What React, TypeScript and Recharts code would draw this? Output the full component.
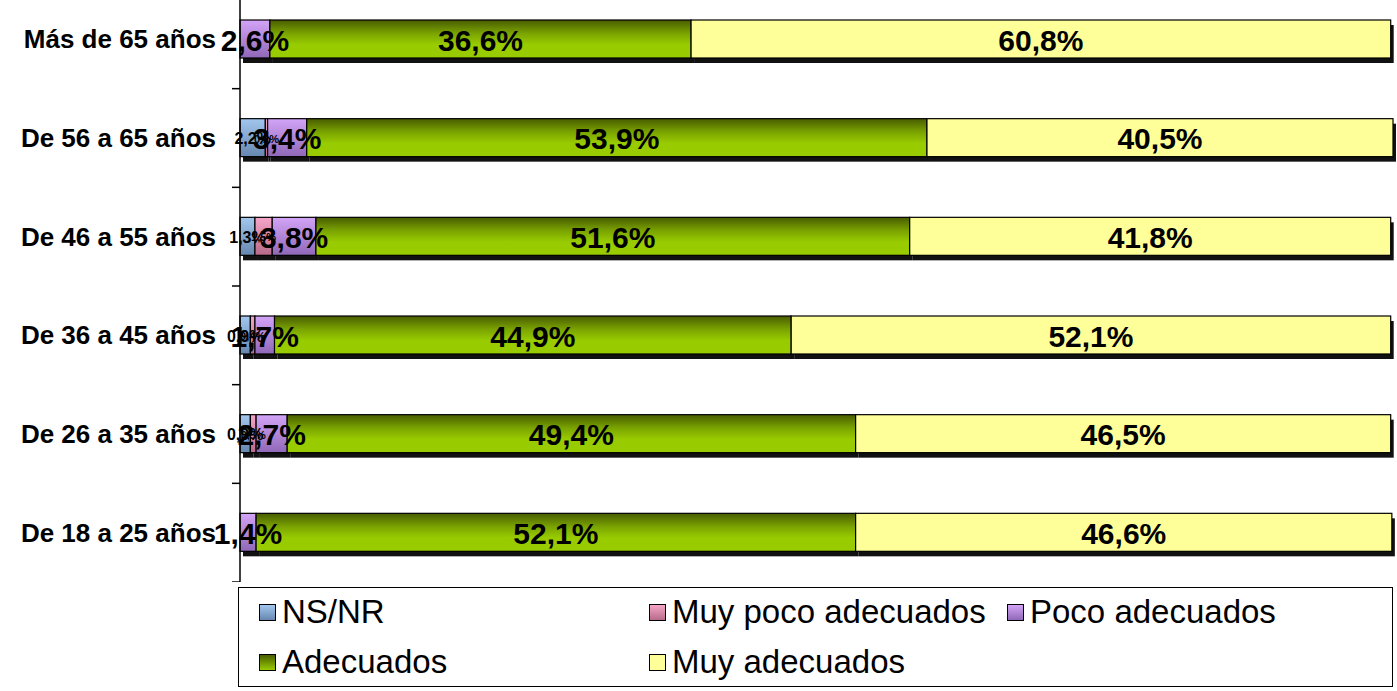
import { Bar, BarChart, LabelList, XAxis, YAxis } from "recharts"

const AGE_GROUPS = [
  "Más de 65 años",
  "De 56 a 65 años",
  "De 46 a 55 años",
  "De 36 a 45 años",
  "De 26 a 35 años",
  "De 18 a 25 años",
]
const NS_NR = [0, 2.2, 1.3, 0.9, 0.9, 0]
const MUY_POCO = [0, 0.2, 1.5, 0.4, 0.5, 0]
const POCO = [2.6, 3.4, 3.8, 1.7, 2.7, 1.4]
const ADECUADOS = [36.6, 53.9, 51.6, 44.9, 49.4, 52.1]
const MUY_ADECUADOS = [60.8, 40.5, 41.8, 52.1, 46.5, 46.6]

const SERIES = [
  { key: "nsnr", name: "NS/NR", values: NS_NR, grad: "gBlue", labelSize: 16 },
  { key: "muypoco", name: "Muy poco adecuados", values: MUY_POCO, grad: "gPink", labelSize: 11 },
  { key: "poco", name: "Poco adecuados", values: POCO, grad: "gPurple", labelSize: 30 },
  { key: "adecuados", name: "Adecuados", values: ADECUADOS, grad: "gGreen", labelSize: 30 },
  { key: "muyadecuados", name: "Muy adecuados", values: MUY_ADECUADOS, grad: "gYellow", labelSize: 30 },
]

const chartData = AGE_GROUPS.map((group, i) => {
  const row: Record<string, string | number> = { group }
  SERIES.forEach((s) => (row[s.key] = s.values[i]))
  return row
})

const W = 1397
const H = 592
const TOP = -10
const PLOT_LEFT = 240
const HALF_BAND = H / AGE_GROUPS.length / 2
const FONT = "Arial, 'Liberation Sans', sans-serif"

const GRADS: Record<string, { stop: number; color: string }[]> = {
  gBlue: [
    { stop: 0, color: "#a2c6ee" },
    { stop: 1, color: "#6687b0" },
  ],
  gPink: [
    { stop: 0, color: "#f5a6c8" },
    { stop: 1, color: "#b86a8a" },
  ],
  gPurple: [
    { stop: 0, color: "#d3a4f7" },
    { stop: 1, color: "#9068b8" },
  ],
  gGreen: [
    { stop: 0, color: "#485c00" },
    { stop: 0.35, color: "#7aa300" },
    { stop: 0.65, color: "#99cc00" },
    { stop: 1, color: "#99cc00" },
  ],
  gYellow: [
    { stop: 0, color: "#ffff99" },
    { stop: 1, color: "#ffff99" },
  ],
}

const fmt = (v: number) => v.toFixed(1).replace(".", ",") + "%"

function ShadowBar(props: any) {
  const { x, y, width, height, fill } = props
  if (!width || width <= 0) return null
  return (
    <g>
      <rect x={x + 3} y={y + 5} width={width} height={height} fill="#111" />
      <rect x={x} y={y} width={width} height={height} fill={fill} stroke="#000" strokeWidth={1.2} />
    </g>
  )
}

function GroupTick(props: any) {
  const { y, payload, index } = props
  return (
    <g>
      <text
        x={PLOT_LEFT - 24}
        y={y}
        textAnchor="end"
        dominantBaseline="central"
        fontFamily={FONT}
        fontWeight="bold"
        fontSize={26}
        fill="#000"
      >
        {payload.value}
      </text>
      <line x1={PLOT_LEFT - 8} x2={PLOT_LEFT} y1={y + HALF_BAND} y2={y + HALF_BAND} stroke="#000" strokeWidth={1.5} />
      {index === 0 && (
        <line x1={PLOT_LEFT - 8} x2={PLOT_LEFT} y1={y - HALF_BAND} y2={y - HALF_BAND} stroke="#000" strokeWidth={1.5} />
      )}
    </g>
  )
}

function makeLabel(size: number) {
  return (props: any) => {
    const { x, y, width, height, value } = props
    if (!value) return null
    return (
      <text
        x={x + width / 2}
        y={y + height / 2 + 1}
        textAnchor="middle"
        dominantBaseline="central"
        fontFamily={FONT}
        fontWeight="bold"
        fontSize={size}
        fill="#000"
      >
        {fmt(value)}
      </text>
    )
  }
}

function LegendBox() {
  const cols = [258, 648, 1006]
  const rows = [611, 661]
  return (
    <div
      style={{
        position: "absolute",
        left: 238,
        top: 587,
        width: 1155,
        height: 100,
        border: "1.5px solid #000",
        boxSizing: "border-box",
      }}
    >
      {SERIES.map((s, i) => {
        const left = cols[i % 3] - 238
        const top = rows[Math.floor(i / 3)] - 587
        const g = GRADS[s.grad]
        return (
          <div
            key={s.key}
            style={{
              position: "absolute",
              left,
              top: top - 20,
              height: 40,
              display: "flex",
              alignItems: "center",
              fontFamily: FONT,
              fontSize: 33,
              color: "#000",
              whiteSpace: "nowrap",
            }}
          >
            <span
              style={{
                display: "inline-block",
                width: 17,
                height: 17,
                border: "1.5px solid #000",
                boxSizing: "border-box",
                background: `linear-gradient(${g[0].color}, ${g[g.length - 1].color})`,
                marginRight: 6,
              }}
            />
            {s.name}
          </div>
        )
      })}
    </div>
  )
}

export default function App() {
  return (
    <div style={{ position: "absolute", left: 0, top: 0, width: W, height: 691, background: "#fff", overflow: "hidden" }}>
      <div style={{ position: "absolute", left: 0, top: TOP }}>
        <BarChart
          width={W}
          height={H}
          data={chartData}
          layout="vertical"
          margin={{ top: 0, right: 4, bottom: 0, left: 0 }}
          barSize={38}
        >
          <defs>
            {Object.entries(GRADS).map(([id, stops]) => (
              <linearGradient key={id} id={id} x1="0" y1="0" x2="0" y2="1">
                {stops.map((st) => (
                  <stop key={st.stop} offset={st.stop} stopColor={st.color} />
                ))}
              </linearGradient>
            ))}
          </defs>
          <XAxis type="number" domain={[0, 100]} hide />
          <YAxis
            type="category"
            dataKey="group"
            width={PLOT_LEFT}
            axisLine={{ stroke: "#000", strokeWidth: 1.5 }}
            tickLine={false}
            tick={<GroupTick />}
            interval={0}
          />
          {SERIES.map((s) => (
            <Bar
              key={s.key}
              dataKey={s.key}
              name={s.name}
              stackId="a"
              fill={`url(#${s.grad})`}
              shape={<ShadowBar />}
              isAnimationActive={false}
            >
              <LabelList dataKey={s.key} content={makeLabel(s.labelSize)} />
            </Bar>
          ))}
        </BarChart>
      </div>
      <LegendBox />
    </div>
  )
}
